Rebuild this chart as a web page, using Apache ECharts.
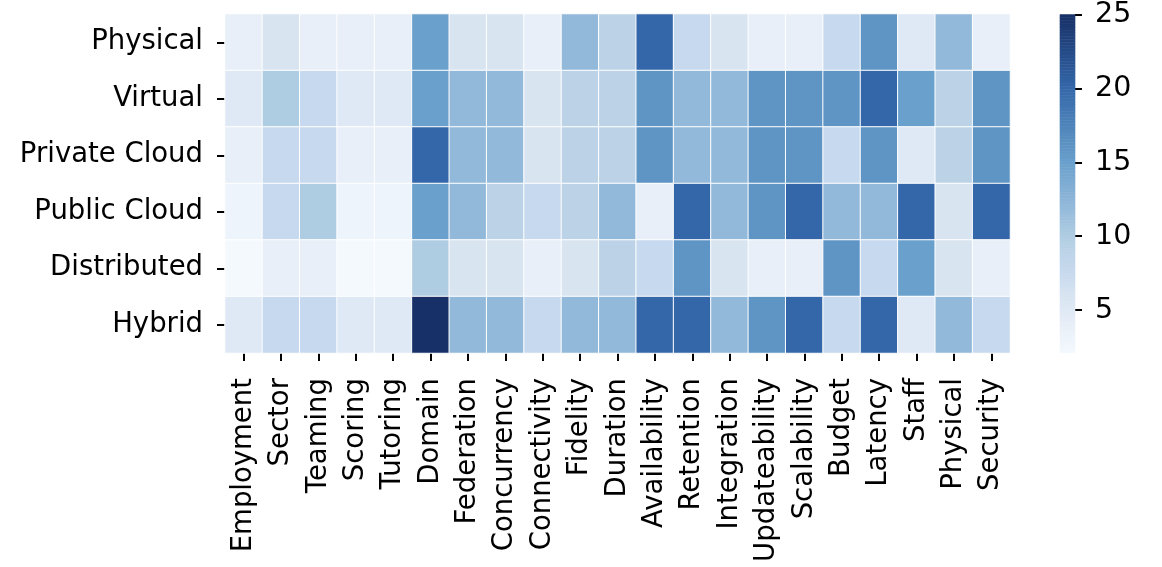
<!DOCTYPE html>
<html>
<head>
<meta charset="utf-8">
<script src="https://cdn.jsdelivr.net/npm/echarts@6/dist/echarts.min.js"></script>
<style>html,body{margin:0;padding:0;background:#fff}#c{width:1162px;height:567px}</style>
</head>
<body>
<div id="c"></div>
<script>
const columns = ["Employment","Sector","Teaming","Scoring","Tutoring","Domain","Federation","Concurrency","Connectivity","Fidelity","Duration","Availability","Retention","Integration","Updateability","Scalability","Budget","Latency","Staff","Physical","Security"];
const rows = ["Physical","Virtual","Private Cloud","Public Cloud","Distributed","Hybrid"];
const physical     = [4, 6, 4, 4, 4, 15, 6, 6, 4, 12, 9, 20, 7.5, 6, 4, 4, 7.5, 16, 5, 12, 4];
const virtual      = [5, 10, 7.5, 5, 5, 15, 12, 12, 6, 9, 9, 16, 12, 12, 16, 16, 16, 20, 15, 9, 16];
const privateCloud = [4, 7.5, 7.5, 4, 4, 20, 12, 12, 6, 9, 9, 16, 12, 12, 16, 16, 7.5, 16, 5, 9, 16];
const publicCloud  = [3, 7.5, 10, 3, 3, 15, 12, 9, 7.5, 9, 12, 4, 20, 12, 16, 20, 12, 12, 20, 6, 20];
const distributed  = [2, 4, 4, 2, 2, 10, 6, 6, 4, 6, 9, 7.5, 16, 6, 4, 4, 16, 7.5, 15, 6, 4];
const hybrid       = [5, 7.5, 7.5, 5, 5, 25, 12, 12, 7.5, 12, 12, 20, 20, 12, 16, 20, 7.5, 20, 5, 12, 7.5];
const rowValues = [physical, virtual, privateCloud, publicCloud, distributed, hybrid];
const colorbarTicks = [5, 10, 15, 20, 25];
const vMin = 2.1, vMax = 25;

// colour anchors (value, colour)
const anchors = [[2,'#f5f9fe'],[4,'#e8eff8'],[5,'#dfe9f5'],[6,'#d9e4f1'],[7.5,'#c7d9ee'],[9,'#bcd3e7'],[10,'#afcde2'],[12,'#93b9da'],[15,'#6aa0cc'],[16,'#5e95c4'],[20,'#3467a9'],[25,'#173067']];
function hex2rgb(h){return [parseInt(h.substr(1,2),16),parseInt(h.substr(3,2),16),parseInt(h.substr(5,2),16)];}
function colorAt(v){
  if(v<=anchors[0][0]) return anchors[0][1];
  for(let i=0;i<anchors.length-1;i++){
    const [a,ca]=anchors[i],[b,cb]=anchors[i+1];
    if(v>=a&&v<=b){const t=(v-a)/(b-a);const A=hex2rgb(ca),B=hex2rgb(cb);
      return 'rgb('+A.map((x,k)=>Math.round(x+(B[k]-x)*t)).join(',')+')';}
  }
  return anchors[anchors.length-1][1];
}
const palette=[];
const nPal = 93;
for(let i=0;i<nPal;i++) palette.push(colorAt(vMin + (vMax-vMin)*i/(nPal-1)));

const data=[];
rowValues.forEach((arr,r)=>arr.forEach((v,c)=>data.push([c,r,v])));

// colour bar levels (one thin heatmap cell per level)
const nLevels = 230;
const levelCats=[], barData=[];
for(let i=0;i<nLevels;i++){
  levelCats.push(String(i));
  barData.push([0, i, vMin + (vMax-vMin)*(i+0.5)/nLevels]);
}

const F = 'DejaVu Sans';
const FS = 27.5;
const chart = echarts.init(document.getElementById('c'));
chart.setOption({
  animation:false,
  grid:[
    {left:225, right:152, top:14, bottom:214},
    {left:1060, width:15, top:14, height:339}
  ],
  xAxis:[
    {type:'category', data:columns, gridIndex:0, axisLine:{show:false},
     axisTick:{show:true, alignWithLabel:true, length:8, lineStyle:{color:'#000', width:2}},
     axisLabel:{rotate:90, interval:0, fontSize:FS, fontFamily:F, color:'#000', margin:25},
     splitLine:{show:false}},
    {type:'category', data:['cb'], gridIndex:1, show:false}
  ],
  yAxis:[
    {type:'category', data:rows, inverse:true, gridIndex:0, axisLine:{show:false},
     axisTick:{show:true, alignWithLabel:true, length:8, lineStyle:{color:'#000', width:2}},
     axisLabel:{fontSize:FS, fontFamily:F, color:'#000', margin:22},
     splitLine:{show:false}},
    {type:'category', data:levelCats, gridIndex:1, show:false},
    {type:'value', gridIndex:1, position:'right', min:vMin, max:vMax,
     axisLine:{show:false}, splitLine:{show:false},
     axisTick:{show:true, length:7, lineStyle:{color:'#000', width:2}, customValues:colorbarTicks},
     axisLabel:{fontSize:28.5, fontFamily:F, color:'#000', margin:20, customValues:colorbarTicks}}
  ],
  visualMap:{
    type:'continuous', min:vMin, max:vMax, show:false, dimension:2,
    seriesIndex:[0,1], inRange:{color:palette}
  },
  series:[{
    type:'heatmap', xAxisIndex:0, yAxisIndex:0, data:data,
    itemStyle:{borderColor:'#fff', borderWidth:1},
    emphasis:{disabled:true}, label:{show:false}
  },{
    type:'heatmap', xAxisIndex:1, yAxisIndex:1, data:barData, silent:true,
    itemStyle:{borderWidth:0},
    emphasis:{disabled:true}, label:{show:false}
  }]
});
</script>
</body>
</html>
